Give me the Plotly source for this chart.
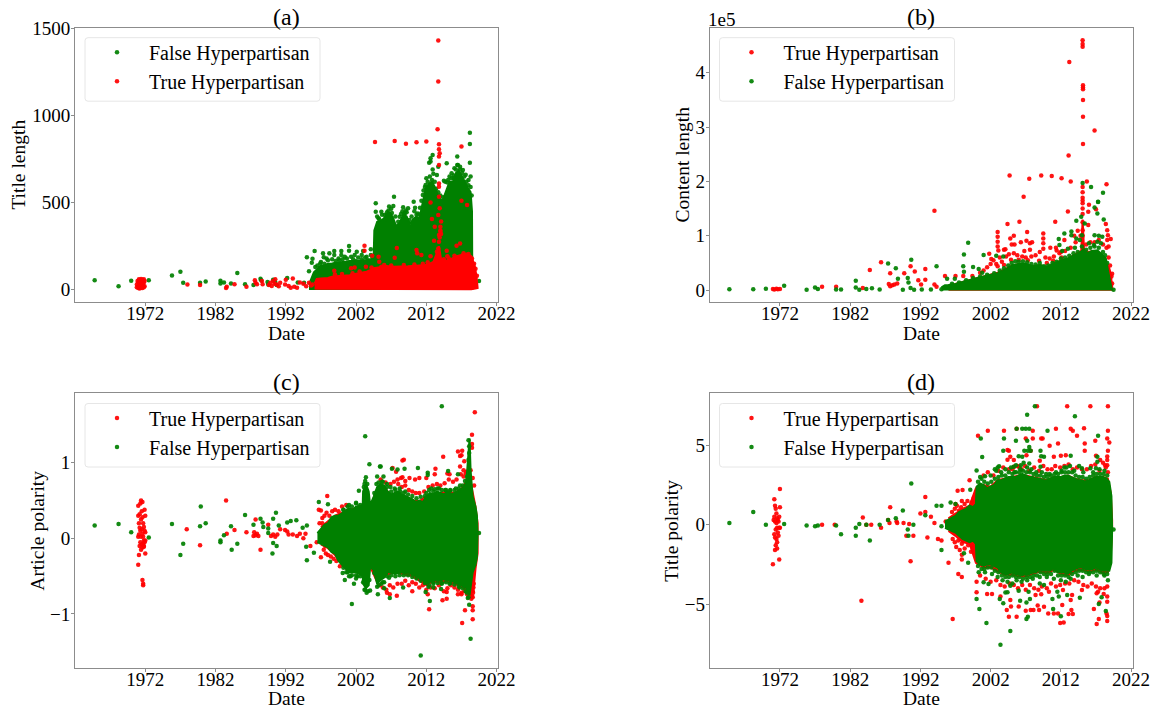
import plotly.graph_objects as go

RED = "#ff0000"
GREEN = "#008000"
FONT = "Liberation Serif"
TRUE_NAME = "True Hyperpartisan"
FALSE_NAME = "False Hyperpartisan"
PANEL_TITLES = ["(a)", "(b)", "(c)", "(d)"]
Y_TITLES = ["Title length", "Content length", "Article polarity", "Title polarity"]
X_TITLE = "Date"
X_TICKS = [1972, 1982, 1992, 2002, 2012, 2022]

# Bands: the solid mass of the cloud, as (year, top, bottom). Points: (year, value).
A_GREEN_BAND = [(1995.3,30,5),(1995.7,70,5),(1996,100,5),(1996.5,120,5),(1997,140,5),(1997.5,140,5),(1998,150,5),(1998.5,150,5),(1999,155,5),(1999.5,155,5),(2000,160,5),(2000.5,160,5),(2001,165,5),(2001.5,165,5),(2002,170,5),(2002.5,165,5),(2003,170,5),(2003.5,170,5),(2004,175,5),(2004.5,180,5),(2004.6,340,5),(2005,390,5),(2005.5,395,5),(2006,410,5),(2006.5,440,5),(2006.9,440,5),(2007.3,410,5),(2007.7,365,5),(2008.2,385,5),(2008.7,430,5),(2009.2,420,5),(2009.7,375,5),(2010.1,405,5),(2010.6,420,5),(2011,405,5),(2011.4,490,5),(2011.9,580,5),(2012.4,610,5),(2012.8,620,5),(2013.2,590,5),(2013.8,530,5),(2014.3,510,5),(2014.9,580,5),(2015.3,620,5),(2015.8,620,5),(2016.2,670,5),(2016.6,685,5),(2017,650,5),(2017.4,625,5),(2017.9,585,5),(2018.3,560,5),(2018.5,450,5),(2018.55,60,5)]
A_RED_BAND = [(1996.1,35,8),(1996.4,62,6),(1997,65,5),(1998,68,4),(1998.7,76,4),(1999.5,78,4),(2000.3,80,3),(2001.1,84,3),(2002,92,3),(2002.8,98,3),(2003.5,104,3),(2004,112,3),(2004.5,124,3),(2005.4,130,3),(2006.3,136,3),(2007.3,132,3),(2008.2,132,3),(2009.4,135,3),(2010.6,138,3),(2011.8,142,3),(2012.5,150,3),(2013,160,3),(2013.5,210,3),(2013.8,250,3),(2014.1,175,3),(2014.9,165,3),(2015.6,178,3),(2016.3,192,3),(2017,200,3),(2017.7,208,3),(2018.4,192,3),(2018.9,135,5),(2019.15,75,8),(2019.3,25,10)]
A_GREEN_POINTS = [(1964.8,55),(1968.2,21),(1970,52),(1972.5,54),(1975.8,82),(1977,103),(1977.4,40),(1979.8,40),(1980.6,48),(1982.7,52),(1982.7,36),(1983.2,42),(1984.2,36),(1985.1,97),(1986.2,32),(1987.4,27),(1988.4,63),(1988.5,55),(1989.4,45),(1989.5,30),(1990.2,58),(1990.5,44),(1990.7,28),(1992.2,68),(1993.7,42),(1994.6,40),(1995,186),(1995.8,178),(1995.7,155),(1995.3,107),(1996.1,222),(1997.3,209),(1997.4,186),(1996.9,151),(1996.8,123),(1998.2,209),(1997.8,180),(1998.9,222),(1998.9,199),(1999.5,180),(1999.9,222),(1999.9,199),(2001,251),(2001,224),(2000.4,190),(2002.1,218),(2003,222),(2001.8,199),(2002.8,199),(2004.1,232),(2004.1,199),(2003.5,190),(2004.8,496),(2004.8,448),(2005.6,448),(2007.4,534),(2006.7,477),(2007.3,480),(2006.1,429),(2008.7,473),(2009.4,467),(2010.2,505),(2010.4,471),(2010.8,438),(2008.2,419),(2011.5,544),(2011.9,601),(2012,639),(2012.6,735),(2012.9,773),(2012.6,754),(2012.4,729),(2013.7,706),(2013.5,658),(2014.9,725),(2015.6,668),(2016.4,764),(2016.4,716),(2017.2,687),(2018.2,901),(2018.2,836),(2018.2,729),(2018.3,649),(2016,697),(2016.8,706),(2019.5,50),(2012.9,690),(2013,665),(2014.5,625),(2015.1,630),(2015.9,655),(2017.6,660),(2018,630),(2005.2,410),(2006.4,445),(2008.9,440),(2009.1,455),(2011.1,470)]
A_GREEN_RIM = [(2005,420),(2005.3,405),(2005.7,430),(2006.1,405),(2006.4,430),(2006.6,455),(2007,465),(2007.1,440),(2007.6,420),(2008,390),(2008.4,435),(2008.6,450),(2008.9,430),(2009.2,445),(2009.6,400),(2009.9,420),(2010.3,450),(2010.6,430),(2011,430),(2011.3,510),(2011.6,570),(2011.8,590),(2012.2,620),(2012.5,650),(2012.8,630),(2013.2,620),(2013.4,580),(2013.7,560),(2014,540),(2014.4,530),(2014.7,620),(2015,615),(2015.3,650),(2015.6,640),(2015.9,640),(2016.2,690),(2016.5,715),(2016.8,690),(2017.1,670),(2017.4,650),(2017.7,620),(2018,600),(2018.3,590),(2018.45,540),(1997,160),(1997.5,150),(1998,170),(1998.6,175),(1999.1,165),(1999.6,170),(2000.1,175),(2000.7,180),(2001.3,190),(2001.6,175),(2002.3,185),(2002.8,175),(2003.3,185),(2003.7,170),(2004.3,190),(1996.2,130),(1996.5,140),(1996.8,100)]
A_RED_POINTS = [(1970.8,15),(1970.8,30),(1970.9,50),(1971,10),(1971,42),(1971,22),(1971.1,60),(1971.2,8),(1971.2,35),(1971.2,55),(1971.3,15),(1971.3,45),(1971.4,62),(1971.4,12),(1971.4,28),(1971.5,50),(1971.5,20),(1971.5,40),(1971.6,10),(1971.6,35),(1971.6,58),(1971.7,25),(1971.7,48),(1971.8,15),(1971.8,40),(1971.8,60),(1971.9,20),(1971.9,50),(1978,30),(1979.8,28),(1983.5,10),(1983.6,18),(1984.7,32),(1986.4,18),(1987.6,55),(1987.7,40),(1987.9,32),(1988.6,50),(1988.7,32),(1989.6,28),(1989.8,40),(1990,22),(1990.2,50),(1990.4,35),(1990.5,60),(1990.7,30),(1991,20),(1991.2,40),(1991.9,30),(1992,58),(1992.4,22),(1992.7,12),(1993,65),(1993.2,18),(1993.6,12),(1994,42),(1994.5,35),(1994.9,20),(1995.3,40),(1995.6,25),(1995.8,30),(2013.7,1430),(2013.7,1195),(2004.7,848),(2007.5,853),(2009.1,838),(2010.6,846),(2012,850),(2013.6,920),(2013.8,834),(2013.8,806),(2013.9,783),(2013.8,764),(2013.8,716),(2013.8,610),(2013.8,591),(2013.8,534),(2012.6,501),(2013.9,467),(2013.7,429),(2012.8,406),(2014.1,391),(2013.2,362),(2014,362),(2014,333),(2013.8,314),(2013.1,281),(2007.8,239),(2003.2,253),(2003.2,224),(2005.2,190),(2005.3,161),(2004.3,195),(2007.5,184),(2010.6,228),(2010.7,209),(2011.3,199),(1998.9,109),(2001.3,123),(2001.8,128),(2003.4,132),(2005.6,132),(2013.8,276),(2013.7,237),(2013.5,218),(2014.9,224),(2015,193),(2016.3,253),(2016.8,266),(2017,511),(2017.8,486),(2017,821),(2012.6,193),(2014,340),(2013.9,300),(2014.1,320),(1999,88),(2000,90),(2001.5,95),(2002.5,105),(2004.2,128),(2006,142),(2007,140),(2008.8,142),(2010.3,145),(2011.5,150),(2012.2,158),(2014.5,175),(2015.2,180),(2016,195),(2017.3,210),(2018,205),(2018.5,180),(2018.8,150),(2019,120),(2019.2,80)]

B_RED_BAND = [(1996,9000,500),(1997,11000,500),(1998,15000,500),(1999,19000,500),(2000,22000,500),(2001,25000,500),(2002,28000,500),(2003,32000,500),(2004,38000,500),(2005,45000,500),(2006,48000,500),(2007,47000,500),(2008,44000,500),(2009,46000,500),(2010,42000,500),(2011,48000,500),(2012,54000,500),(2013,58000,500),(2014,66000,500),(2014.9,72000,500),(2015.1,130000,500),(2015.3,74000,500),(2016,70000,500),(2016.5,72000,500),(2017,72000,500),(2017.5,68000,500),(2018,60000,500),(2018.5,48000,500),(2018.9,40000,500),(2019.1,30000,500),(2019.35,7000,500)]
B_GREEN_BAND = [(1995,5000,1000),(1995.5,9000,1000),(1996,9500,1000),(1997,11000,1000),(1998,15000,1000),(1999,19000,1000),(2000,22000,1000),(2001,25000,1000),(2002,27500,1000),(2003,31000,1000),(2003.6,34000,1000),(2004.4,40000,1000),(2005.2,46000,1000),(2006.3,49000,1000),(2007,48000,1000),(2008,44000,1000),(2009.1,46000,1000),(2010,42000,1000),(2011,49000,1000),(2012,54000,1000),(2013,58000,1000),(2013.9,64000,1000),(2014.5,66000,1000),(2015.2,75000,1000),(2015.8,68000,1000),(2016.4,72000,1000),(2017.2,73000,1000),(2017.8,66000,1000),(2018.4,58000,1000),(2018.8,30000,1000),(2019.1,12000,1000),(2019.25,3000,1000)]
B_RED_POINTS = [(1971,2000),(1971.2,1000),(1971.5,2500),(1971.7,1500),(1972,2000),(1978,6000),(1980,6000),(1983.8,4000),(1984.8,37000),(1986.4,51000),(1987.7,31000),(1987.5,11000),(1987.7,7000),(1988,9000),(1988.3,10000),(1988.7,12000),(1989.7,31000),(1990.6,44000),(1991.2,34000),(1991.7,18000),(1992.1,10000),(1992.7,39000),(1992.7,19000),(1994,146000),(1994,10000),(1994.3,6000),(1995.5,26000),(1997,26000),(2015.1,460000),(2015.1,453000),(2015.1,448000),(2013.2,420000),(2015.15,377000),(2015.15,373000),(2015.15,370000),(2015.15,350000),(2015.15,319000),(2016.8,294000),(2015.15,269000),(2013.1,248000),(2004.7,211000),(2007.5,205000),(2009.2,211000),(2010.7,210000),(2012.1,206000),(2013.4,200000),(2015.7,200000),(2018.5,195000),(2006.7,172000),(2015.1,190000),(2015.1,180000),(2015.1,170000),(2015.1,165000),(2015.1,160000),(2015.1,150000),(2015.1,140000),(2015.1,125000),(2015.1,110000),(2015.1,100000),(2013,144800),(2004.4,121500),(2006.1,125800),(2011.2,125800),(2018.4,121500),(2003,106700),(2003,98000),(2003,89000),(2003,80000),(2003.1,73000),(2007.2,107000),(2009.5,104000),(2009.5,95000),(2009.5,86000),(2009.5,76000),(2004.8,95000),(2005.3,100000),(2005,84000),(2005.4,84000),(2006.3,88000),(2007.1,91000),(2007.6,86000),(2007.9,88000),(2003.9,74000),(2004.1,75000),(2001.8,67000),(2002.1,57000),(2006.8,72000),(2007.6,74000),(2010.5,78000),(2011.3,78000),(2011.4,73000),(2012,70000),(2012.5,92000),(2013.9,100000),(2014.4,109000),(2015.9,144000),(2015.9,120000),(2016,157000),(2017,149000),(2018.6,110000),(2018.7,101000),(2018.6,92000),(2018.8,80000),(2019.1,94000),(2019.3,30000),(2019.3,12000),(1998.1,26000),(1999.4,26000)]
B_RED_RIM = [(2001.5,42000),(2002,48000),(2002.4,55000),(2002.8,48000),(2003.3,60000),(2003.6,52000),(2004.2,62000),(2004.6,66000),(2005.3,68000),(2005.8,64000),(2006.5,62000),(2007,60000),(2007.8,62000),(2008.4,64000),(2009,70000),(2009.8,60000),(2010.4,58000),(2011,62000),(2011.8,68000),(2012.6,72000),(2013.4,78000),(2014.1,88000),(2014.8,100000),(2015.6,84000),(2016.2,88000),(2016.8,88000),(2017.4,92000),(2018,84000),(2018.5,78000),(2000.5,32000),(2001,36000),(2003,44000),(2003.9,46000),(2004.9,56000),(2006,56000),(2007.3,55000),(2008.9,54000),(2010,50000),(2010.9,54000),(2012.1,60000),(2018.8,60000),(2019,45000),(2019.2,25000)]
B_GREEN_POINTS = [(1964.8,1500),(1968.2,1500),(1970,2500),(1972.6,8000),(1975.8,500),(1977,4500),(1977.4,2000),(1980,1000),(1980.7,1000),(1982.8,17000),(1982.8,4500),(1983.3,500),(1984.3,2000),(1985.1,3500),(1986.2,1000),(1987.4,49000),(1988.5,40000),(1988.8,21000),(1989.5,500),(1990.2,22000),(1990.3,14000),(1990.7,56000),(1990.6,4000),(1991.1,500),(1992.2,1000),(1993.5,1000),(1994.3,44000),(1995,1500),(1995.8,20800),(1996.9,20800),(1998.8,87000),(1998.2,65600),(2001,64400),(1998.1,44000),(1998.2,33700),(1999.5,42300),(2000.3,38600),(2000.8,31800),(2014.2,127600),(2017.3,162600),(2016.8,152000),(2017.2,141000),(2014.9,135000),(2015.4,122700),(2018.1,130000),(2012.5,104300),(2013.5,101000),(2013.5,108000),(2011.7,93800),(2011.8,83000),(2015,101000),(2014.7,92000),(2014.2,95000),(2016.8,101000),(2017.4,100000),(2017.9,98000),(2016,86000),(2017.2,89000),(2017.7,86000),(2016.7,83000),(2015.1,197000),(2016.3,190000),(2018,179000),(2017.3,162000),(2002.8,63000),(2003.8,62000),(2019.5,500),(2013,76000),(2014,78000),(2012.2,72000)]
B_GREEN_EDGE = [(1996.5,11500),(1997.5,14000),(1998.5,18000),(1999.5,22000),(2000.5,25000),(2001.5,28000),(2002.5,31000),(2003.3,36000),(2003.9,40000),(2004.5,45000),(2005,50000),(2005.5,53000),(2006,52000),(2006.6,53000),(2007.2,51000),(2007.8,48000),(2008.4,47000),(2009,50000),(2009.6,44000),(2010.2,45000),(2010.8,50000),(2011.4,52000),(2012,58000),(2012.6,60000),(2013.2,63000),(2013.8,68000),(2014.4,70000),(2015,80000),(2015.6,74000),(2016.2,78000),(2016.8,80000),(2017.4,78000),(2018,70000),(2018.3,64000),(2018.6,50000)]

C_RED_BAND = [(1997,.15,-.08),(1998,.22,-.13),(1999,.3,-.22),(2000,.34,-.35),(2001,.38,-.44),(2002,.4,-.44),(2003,.44,-.49),(2004,.4,-.37),(2005,.66,-.58),(2006,.68,-.5),(2007,.56,-.46),(2008,.6,-.46),(2009,.55,-.48),(2010,.5,-.5),(2011,.49,-.56),(2012,.56,-.62),(2013,.58,-.57),(2014,.6,-.58),(2015,.62,-.57),(2016,.6,-.6),(2017,.66,-.64),(2017.6,.74,-.68),(2018,.9,-.72),(2018.4,.7,-.72),(2018.7,.55,-.7),(2019,.42,-.4),(2019.3,.2,-.2)]
C_GREEN_BAND = [(1996.5,.07,-.05),(1997,.12,-.08),(1997.5,.18,-.1),(1998,.2,-.12),(1998.5,.28,-.18),(1999,.3,-.2),(1999.5,.3,-.3),(2000,.33,-.35),(2000.5,.36,-.4),(2001,.4,-.45),(2001.5,.38,-.45),(2002,.42,-.45),(2002.5,.4,-.47),(2002.95,.45,-.5),(2003,.62,-.6),(2003.4,.72,-.66),(2003.8,.62,-.62),(2004,.44,-.38),(2004.5,.55,-.42),(2005,.68,-.6),(2005.5,.72,-.55),(2006,.7,-.52),(2006.5,.62,-.45),(2007,.58,-.45),(2007.5,.6,-.47),(2008,.62,-.46),(2008.5,.58,-.45),(2009,.56,-.46),(2009.5,.53,-.45),(2010,.52,-.48),(2010.5,.48,-.5),(2011,.5,-.52),(2011.5,.48,-.55),(2012,.55,-.6),(2012.5,.6,-.58),(2013,.58,-.55),(2013.5,.62,-.55),(2014,.6,-.56),(2014.5,.58,-.54),(2015,.62,-.55),(2015.5,.58,-.56),(2016,.6,-.58),(2016.5,.63,-.6),(2017,.65,-.62),(2017.4,.68,-.64),(2017.7,.75,-.66),(2018,1.15,-.72),(2018.15,1.32,-.75),(2018.3,.9,-.65),(2018.6,.55,-.45),(2019,.42,-.35),(2019.2,.3,-.25),(2019.3,.05,-.03)]
C_RED_POINTS = [(1971,.43),(1971,.3),(1971,.02),(1971,-.35),(1971.1,.2),(1971.1,.05),(1971.1,-.22),(1971.2,.32),(1971.2,.14),(1971.2,-.1),(1971.3,.46),(1971.3,.1),(1971.3,-.05),(1971.4,.5),(1971.4,.25),(1971.4,.02),(1971.4,-.15),(1971.5,.36),(1971.5,.12),(1971.5,-.08),(1971.6,.48),(1971.6,.28),(1971.6,.06),(1971.6,-.12),(1971.7,.2),(1971.7,.02),(1971.7,-.07),(1971.8,.15),(1971.8,-.03),(1971.8,-.11),(1971.9,.38),(1971.9,.1),(1971.9,-.05),(1972,.3),(1972,.08),(1972,-.2),(1972,-.03),(1971.6,-.55),(1971.7,-.6),(1971.7,-.62),(1971.8,-.1),(1983.5,.5),(1977.9,.12),(1979.8,-.09),(1983.6,.06),(1984.7,.11),(1986.4,.08),(1987.7,.25),(1987.4,.03),(1987.5,.08),(1987.7,.04),(1987.9,.06),(1988.1,.03),(1988.4,-.15),(1989.5,.18),(1989.9,.03),(1990.2,.05),(1990.5,.02),(1990.8,.05),(1991.2,.12),(1991.9,.11),(1992.2,.09),(1992.4,.05),(1993,.05),(1993.6,.03),(1994,.06),(1994.5,0),(1994.8,.06),(1995.5,-.1),(1996.4,-.05),(1996.7,.38),(1997,.37),(1997.2,.2),(1997,-.25),(1997.9,.56),(1997.8,-.05),(1997.6,-.1),(2018.9,1.67),(2018.5,1.37),(2018.5,1.25),(2018.5,1.2),(2016.5,1.15),(2017.1,1.16),(2016.8,1.09),(2017,1.1),(2017.4,1.02),(2014.4,1.08),(2008.8,1.04),(2008.6,1.03),(2007.2,.93),(2007.7,.88),(2008.6,.81),(2009,.76),(2013.3,.92),(2015,.86),(2015.3,.85),(2016.8,.95),(2017.3,.9),(2017.6,.86),(2018,.85),(2012.4,-.94),(2017.1,-1.12),(2017.5,-.95),(2018.6,-.95),(2018.6,-.9),(2018.6,-1.07),(2007.8,-.76),(2010,-.7),(2012.2,-.74),(2014.3,-.82),(2014.9,-.8),(2006.4,-.72),(2006.8,-.74),(2014.9,-.71),(2016.5,-.74),(2017,-.74),(2018.4,-.8),(2018.6,-.78),(2018.6,-.7),(2012,.8),(2013.2,.85),(2007.9,.78),(2008.4,.8),(2009.6,.8),(2010.4,.78),(2011,.8),(1996.8,.2),(1997.2,.27),(1997.5,.3),(1997.8,.34),(1998.2,.3),(1998.6,.36),(1999,.38),(1999.5,.36),(2000,.42),(2000.6,.44),(1997.4,-.15),(1997.7,-.2),(1998,-.22),(1998.4,-.24),(1998.8,-.27),(1999.2,-.3),(1999.7,-.37)]
C_RED_RIM = [(2005.5,.78),(2006.2,.74),(2006.9,.72),(2007.4,.75),(2008,.72),(2008.5,.68),(2009,.7),(2009.5,.64),(2010,.62),(2010.5,.6),(2011,.6),(2011.7,.62),(2012.3,.68),(2012.9,.7),(2013.5,.72),(2014,.7),(2014.6,.73),(2015.2,.78),(2015.8,.75),(2016.3,.78),(2016.9,.85),(2017.3,.82),(2017.7,.88),(2018.3,.9),(2018.6,.8),(2018.8,.7),(2005.3,-.62),(2005.8,-.65),(2006.3,-.68),(2006.8,-.62),(2007.3,-.65),(2007.9,-.6),(2008.5,-.6),(2009,-.56),(2009.5,-.62),(2010,-.58),(2010.5,-.6),(2011,-.65),(2011.5,-.62),(2012,-.68),(2012.6,-.65),(2013.2,-.66),(2013.8,-.62),(2014.5,-.7),(2015,-.66),(2015.5,-.62),(2016,-.65),(2016.5,-.68),(2017,-.72),(2017.4,-.7),(2017.8,-.74),(2018.2,-.74),(2018.5,-.76),(2018.65,-.72),(2018.7,-.65),(2018.75,-.6)]
C_GREEN_POINTS = [(1964.8,.17),(1968.2,.19),(1970,.08),(1972.5,.01),(1975.8,.19),(1977,-.22),(1977.4,-.07),(1979.8,.16),(1979.9,.42),(1980.6,.2),(1982.7,-.05),(1982.7,-.03),(1983.2,.04),(1984.2,.16),(1984.3,-.15),(1985.1,-.07),(1986.2,.31),(1987.4,.18),(1988.4,.26),(1988.7,.21),(1988.8,.15),(1989.5,.13),(1989.5,.07),(1990.2,.26),(1990.6,.34),(1990.2,-.06),(1990.1,-.2),(1990.7,-.1),(1991,.17),(1992.2,.21),(1992.7,.23),(1993.5,.24),(1994.4,.14),(1995,.17),(1995,-.29),(1994.9,-.11),(1996,-.19),(1996.7,.48),(1998,.45),(1998.3,-.31),(2003.3,1.35),(2003.9,.98),(2005.4,.95),(2005.5,.95),(2007.1,.92),(2007.9,.91),(2008.9,.92),(2010.8,.93),(2012.2,.87),(2012.2,.84),(2002.4,.63),(2003.4,.81),(2003.2,.72),(2005,.82),(2005.9,.82),(2015.1,.89),(2016.5,.85),(2018,1.3),(2018.1,1.22),(2018.1,1.13),(2018,1.04),(2001.4,-.87),(2000.4,-.55),(2001.7,-.6),(2000.1,-.46),(2001,-.5),(2002,-.53),(2003.5,-.72),(2004,-.69),(2005.1,-.74),(2006.8,-.79),(2006,-.66),(2012.5,-.83),(2011.9,-.71),(2008.7,-.65),(2014.1,-.67),(2013,-.65),(2018.1,-.88),(2017.9,-.79),(2011.2,-1.55),(2014.2,1.75),(2018.3,-1.33),(2019.5,.07)]
C_GREEN_RIM = [(2000.2,.38),(2001,.44),(2002,.46),(2002.4,.42),(2003.3,.76),(2004.9,.72),(2005.7,.75),(2006.4,.72),(2006.9,.68),(2007.5,.66),(2008.3,.62),(2009,.62),(2012,.6),(2012.7,.66),(2013.2,.65),(2013.8,.66),(2014.7,.64),(2015.4,.64),(2016.2,.66),(2016.8,.7),(2017.5,.76),(2000.6,-.45),(2001.2,-.5),(2002.2,-.5),(2003,-.58),(2003.2,-.68),(2003.7,-.7),(2005,-.64),(2005.6,-.6),(2006,-.58),(2006.7,-.52),(2012.3,-.64),(2013,-.6),(2014.2,-.6),(2015.3,-.6),(2016.7,-.65),(2017.6,-.7),(2018,-.78)]
C_GREEN_EDGE = [(2000.2,.38),(2000.8,.42),(2001.4,.42),(2002,.47),(2002.6,.44),(2003.1,.68),(2003.6,.72),(2004.6,.6),(2005.2,.74),(2005.8,.75),(2006.4,.68),(2007,.62),(2007.6,.64),(2008.2,.66),(2008.8,.6),(2009.4,.58),(2010,.56),(2010.6,.53),(2011.2,.55),(2011.8,.56),(2012.4,.64),(2013,.62),(2013.6,.66),(2014.2,.64),(2014.8,.64),(2015.4,.63),(2016,.64),(2016.6,.66),(2017.2,.7),(2017.8,.82),(2000.2,-.39),(2000.8,-.45),(2001.4,-.49),(2002,-.49),(2002.6,-.5),(2003.3,-.68),(2003.9,-.55),(2004.6,-.46),(2005.2,-.62),(2005.8,-.58),(2006.4,-.5),(2007,-.49),(2007.6,-.5),(2008.2,-.49),(2008.8,-.49),(2009.4,-.49),(2010,-.51),(2010.6,-.53),(2011.2,-.56),(2011.8,-.59),(2012.4,-.62),(2013,-.58),(2013.6,-.59),(2014.2,-.59),(2014.8,-.58),(2015.4,-.59),(2016,-.61),(2016.6,-.63),(2017.2,-.66),(2017.8,-.72)]

D_RED_BAND = [(1996,.4,-.4),(1997,.7,-.7),(1998,1,-1.1),(1999,1.2,-1.2),(1999.9,2.3,-2.4),(2001,2.5,-2.7),(2002,2.4,-2.7),(2003,2.8,-2.9),(2004,2.9,-3.15),(2005,3,-3.15),(2006,3.1,-3.25),(2007,3.1,-3.25),(2008,3,-3.1),(2009,2.9,-2.95),(2010,2.8,-3.05),(2011,3,-2.85),(2012,3,-3.1),(2013,3.1,-3.2),(2014,2.9,-2.9),(2015,2.8,-2.85),(2016,2.8,-2.95),(2017,3,-2.85),(2018,3,-3.05),(2018.7,2.9,-3),(2019.1,2,-2),(2019.3,.3,-.3)]
D_GREEN_BAND = [(1995.5,.2,-.2),(1996,.35,-.3),(1996.5,.45,-.4),(1997,.55,-.5),(1997.5,.8,-.7),(1998,.9,-.9),(1998.5,1,-1),(1999,1.2,-1.1),(1999.5,1.1,-1),(1999.9,1.3,-1.2),(2000,2.4,-2.3),(2000.5,2.6,-2.5),(2001,2.5,-2.6),(2001.5,2.3,-2.5),(2002,2.4,-2.5),(2002.5,2.5,-2.6),(2003,2.8,-2.7),(2003.5,2.8,-3),(2004,2.9,-3.1),(2004.5,3,-3.1),(2005,3,-3),(2005.5,3,-3.1),(2006,3.1,-3.1),(2006.5,3.2,-3.2),(2007,3.1,-3.1),(2007.5,3,-3.1),(2008,3,-3),(2008.5,2.9,-3),(2009,2.9,-2.8),(2009.5,2.8,-2.9),(2010,2.8,-2.9),(2010.5,2.9,-2.9),(2011,3,-2.7),(2011.5,3,-3),(2012,3,-3),(2012.5,3.1,-3),(2013,3.1,-3.1),(2013.5,3,-2.9),(2014,2.9,-2.8),(2014.5,2.8,-2.7),(2015,2.8,-2.7),(2015.5,2.7,-2.8),(2016,2.8,-2.8),(2016.5,2.9,-2.8),(2017,3,-2.7),(2017.5,3,-2.8),(2018,3,-2.9),(2018.5,2.9,-2.9),(2018.9,2.7,-2.9),(2019.2,1.8,-2.4),(2019.3,.3,-.3)]
D_RED_POINTS = [(1971,-2.5),(1971.1,.3),(1971.2,1.6),(1971.2,.5),(1971.2,-.6),(1971.3,1.2),(1971.3,.2),(1971.3,-1.6),(1971.4,1),(1971.4,-.3),(1971.4,-1.3),(1971.5,.7),(1971.5,.1),(1971.5,-.9),(1971.6,.4),(1971.6,-.2),(1971.6,-1.1),(1971.7,.3),(1971.7,-.5),(1971.8,.2),(1971.8,-.7),(1971.9,.5),(1971.9,-.2),(1972,2.25),(1972,1.1),(1972,-.2),(1971.9,-2.2),(1971.6,-1.5),(1971.3,-.8),(1978,0),(1979.8,0),(1983.6,-4.8),(1983.8,.45),(1984.3,0),(1985,0),(1986.4,-.2),(1987.4,.3),(1987.6,.1),(1987.7,1.1),(1988.6,.2),(1988.7,.1),(1989.6,.1),(1990,-.7),(1990.4,.05),(1990.6,-2.3),(1991,-.7),(1992,.7),(1992.7,.8),(1992.7,1.75),(1993,-.8),(1993.5,.5),(1994,.1),(1994.5,-.9),(1995,-1),(1995.6,.2),(1996,-2.4),(1996.6,-5.94),(1997,1.3),(1997.4,-3.1),(1997.9,-3.3),(1997.3,2.14),(1998,2.18),(1997.9,1.5),(1997.9,-1.9),(1997.9,-2.2),(1999,2.8),(2000,-3.59),(2000,-4.26),(2000.2,5.6),(2001.6,5.92),(2001.5,-4.37),(2002.2,-4.37),(2003.4,-4.53),(2003.9,5.92),(2005.7,6.04),(2008,5.92),(2008.6,7.47),(2011.3,6.04),(2012.9,7.47),(2013.4,6.04),(2013.7,5.92),(2015.3,6.07),(2016.2,7.47),(2018.7,7.47),(2018.7,5.92),(2014.3,5.6),(2007,5.43),(2008,5.43),(2009.2,5.43),(2009.4,5.43),(2018.6,5.43),(2018.9,5.18),(2016.9,5.29),(2015.4,5.12),(2011.6,5.12),(2010.4,4.97),(2015.4,4.66),(2018.7,4.66),(2004.4,4.7),(2004.6,4.66),(2007.1,4.38),(2007.7,4.66),(2004.8,4.28),(2004.4,4.1),(2005.3,4.07),(2011,4.28),(2012,4.34),(2012.7,4.38),(2017,4.34),(2018.6,4.3),(2018.6,4.07),(2018.6,3.75),(2018.3,3.75),(2017.6,4.07),(2009,4.03),(2005.3,3.65),(2006,3.65),(2004.8,-4.74),(2004.9,-5.16),(2004.3,-5.37),(2004.6,-5.8),(2006,-5.16),(2005.7,-5.8),(2007,-5.42),(2007.7,-5.37),(2008.1,-5.37),(2008.7,-5.1),(2008.9,-5.37),(2009.6,-5.17),(2010.2,-5.6),(2011,-5.6),(2011.6,-5.6),(2011.9,-6.2),(2012.4,-6.17),(2012.2,-5.06),(2013.1,-5.63),(2013.7,-5.63),(2013.5,-5.37),(2008.4,-4.43),(2009.2,-4.39),(2010.3,-4.22),(2012.3,-4.12),(2013.6,-4.43),(2013.4,-4.74),(2015,-4.12),(2016.7,-5.31),(2017.4,-5.94),(2017.1,-6.26),(2017.1,-4.32),(2017.3,-4.22),(2018.6,-4.53),(2018.6,-4.85),(2018.5,-5.6),(2018.6,-5.75),(2018.6,-6.07),(2018.1,-4.37),(2017.5,-4.9),(1996.5,.8),(1996.9,1),(1997.2,1.2),(1997.5,.9),(1997.8,1.1),(1998.3,1.3),(1998.7,1.5),(1999.3,1.4),(1999.6,1.7),(1996.6,-.9),(1996.9,-1.1),(1997.1,-1.4),(1997.4,-1),(1997.6,-1.6),(1997.9,-1.2),(1998.3,-1.5),(1998.8,-1.3),(1999.2,-1.7),(1999.6,-1.4)]
D_RED_RIM = [(2001,3.1),(2001.6,3.3),(2002.4,3.1),(2003.1,3.4),(2003.8,3.6),(2004.6,3.5),(2005.1,3.5),(2005.8,3.7),(2006.4,3.5),(2006.9,3.7),(2007.5,3.4),(2008.2,3.6),(2008.9,3.4),(2009.5,3.7),(2010.1,3.5),(2010.7,3.5),(2011.2,3.7),(2011.9,3.6),(2012.5,3.7),(2013.1,3.8),(2013.7,3.5),(2014.3,3.6),(2015,3.5),(2015.7,3.5),(2016.3,3.7),(2016.9,3.8),(2017.5,3.4),(2018,3.9),(2018.4,3.6),(2018.7,3.3),(2000.5,-3.2),(2001.3,-3.4),(2002,-3.6),(2002.8,-3.5),(2003.4,-3.8),(2004,-3.9),(2004.7,-3.7),(2005.3,-3.8),(2005.9,-4),(2006.5,-3.8),(2007,-4.1),(2007.6,-3.8),(2008.2,-4),(2008.8,-4.1),(2009.3,-3.9),(2010,-4),(2010.6,-3.7),(2011.3,-3.9),(2011.9,-3.8),(2012.6,-3.7),(2013.2,-3.7),(2013.9,-3.5),(2014.5,-3.6),(2015.2,-3.8),(2015.8,-3.9),(2016.4,-3.7),(2017,-3.9),(2017.6,-4),(2018.2,-4),(2018.6,-3.9)]
D_GREEN_POINTS = [(1964.8,.1),(1968.2,.8),(1970,0),(1972.6,.05),(1975.8,-.05),(1977,-.1),(1977.4,-.05),(1980,-.05),(1980.7,-.6),(1982.8,-.2),(1982.8,-.7),(1983.3,.05),(1984.3,0),(1984.8,-1),(1986.2,0),(1987.4,.3),(1988.5,.4),(1989.5,.9),(1990.2,-.3),(1990.7,2.6),(1990.3,-.7),(1991,0),(1992.7,.6),(1994.3,1.2),(1995,1.2),(1995,-.1),(1995,-1.6),(1996.3,1.4),(1997,1.3),(1998.2,-1.8),(1998.8,-2.4),(1999.1,2.2),(2000,3.42),(2000.6,5.43),(2000.8,4.26),(2003.2,3.69),(2002.6,3.5),(2003,3.6),(2003.9,5.43),(2003.8,4.66),(2005.6,5.29),(2005.7,6.04),(2006.5,6.04),(2007,6.04),(2007.5,6.04),(2007.2,6.93),(2007.2,5.29),(2008.3,7.47),(2010.1,5.92),(2014,6.84),(2017.3,5.6),(2006.8,4.66),(2007.3,4.66),(2007.7,4.66),(2007.5,4.9),(2009.1,4.66),(2009.6,4.28),(2009.2,4.32),(2006,4.32),(2006.5,4.28),(2013.4,4.34),(2017.2,4.28),(2017.2,3.96),(2007.5,3.85),(2005.3,3.65),(2005.6,3.75),(2006.3,3.75),(2009.1,3.65),(2012.5,3.6),(2014.6,3.7),(2015,3.55),(2016.2,3.55),(2017,3.55),(2001.4,-6.19),(2004.8,-6.7),(2003.4,-7.56),(2000.4,-5.31),(2000,-4.68),(2001,-3.63),(2001.7,-3.73),(2003.3,-4.68),(2003.8,-4.95),(2006,-4.16),(2007.4,-4.22),(2004.1,-4.28),(2004.4,-4.26),(2006.2,-4.79),(2007.1,-4.91),(2007.6,-4.68),(2007.3,-5.8),(2007.1,-5.94),(2010.8,-4.68),(2010.9,-5.31),(2012,-5.77),(2011.7,-4.53),(2014.7,-4.6),(2017.8,-4.58),(2017.4,-5),(2018.4,-5.44),(2011.5,-4.22),(2012.9,-4.43),(2009.6,-3.8),(2009,-3.7),(2004.8,-3.84),(2019.5,-.3)]
D_GREEN_RIM = [(2000.5,3),(2001.2,3.05),(2002,3.1),(2002.8,3.4),(2003.5,3.3),(2004.1,3.5),(2004.9,3.6),(2005.4,3.3),(2006.2,3.5),(2006.7,3.9),(2007.2,3.6),(2007.8,3.5),(2008.5,3.3),(2009.3,3.3),(2009.9,3.2),(2010.4,3.2),(2011.3,3.3),(2012.1,3.4),(2012.8,3.6),(2013.3,3.7),(2013.9,3.4),(2015.2,3.3),(2016.6,3.3),(2017.5,3.5),(2018.2,3.4),(2000.3,-3),(2001.2,-3),(2002.2,-3.1),(2003,-3.3),(2003.7,-3.5),(2004.4,-3.6),(2005.1,-3.7),(2005.7,-3.5),(2006.4,-3.6),(2007.2,-3.5),(2008,-3.4),(2009,-3.3),(2010,-3.3),(2011,-3.4),(2012,-3.5),(2012.7,-3.6),(2013.4,-3.4),(2014.4,-3.2),(2015.1,-3.3),(2016,-3.1),(2017.1,-3.2),(2018.2,-3.2),(2018.7,-3.5)]
D_GREEN_EDGE = [(2000.2,2.7),(2000.7,2.9),(2001.1,2.7),(2001.6,2.6),(2002.1,2.7),(2002.6,2.9),(2003.1,3),(2003.6,3.1),(2004.1,3.1),(2004.6,3.3),(2005.1,3.2),(2005.6,3.3),(2006.1,3.3),(2006.6,3.4),(2007.1,3.3),(2007.6,3.3),(2008.1,3.2),(2008.6,3.1),(2009.1,3.1),(2009.6,3),(2010.1,3),(2010.6,3.1),(2011.1,3.2),(2011.6,3.2),(2012.1,3.3),(2012.6,3.3),(2013.1,3.3),(2013.6,3.3),(2014.1,3.1),(2014.6,3),(2015.1,3),(2015.6,2.9),(2016.1,3),(2016.6,3.1),(2017.1,3.2),(2017.6,3.2),(2018.1,3.2),(2018.6,3.1),(2000.2,-2.6),(2000.7,-2.8),(2001.1,-2.8),(2001.6,-2.7),(2002.1,-2.7),(2002.6,-2.9),(2003.1,-3),(2003.6,-3.2),(2004.1,-3.3),(2004.6,-3.3),(2005.1,-3.2),(2005.6,-3.3),(2006.1,-3.3),(2006.6,-3.4),(2007.1,-3.3),(2007.6,-3.3),(2008.1,-3.2),(2008.6,-3.2),(2009.1,-3),(2009.6,-3.1),(2010.1,-3.1),(2010.6,-3.1),(2011.1,-2.9),(2011.6,-3.2),(2012.1,-3.2),(2012.6,-3.2),(2013.1,-3.3),(2013.6,-3.1),(2014.1,-3),(2014.6,-2.9),(2015.1,-2.9),(2015.6,-3),(2016.1,-3),(2016.6,-3),(2017.1,-2.9),(2017.6,-3),(2018.1,-3.1),(2018.6,-3.1)]

PANELS = [
    dict(first="false", band_false=A_GREEN_BAND, band_true=A_RED_BAND, pts_false=A_GREEN_POINTS + A_GREEN_RIM, pts_true=A_RED_POINTS, x=(75, 498), y=(27.5, 302), yr=(-70, 1504), ticks=[0, 500, 1000, 1500], text=["0", "500", "1000", "1500"], box=(85, 37.7), standoff=1, date_y=334),
    dict(first="true", band_false=B_GREEN_BAND, band_true=B_RED_BAND, pts_false=B_GREEN_POINTS + B_GREEN_EDGE, pts_true=B_RED_POINTS + B_RED_RIM, x=(709.7, 1132.5), y=(27.5, 302), yr=(-22000, 483500), ticks=[0, 100000, 200000, 300000, 400000], text=["0", "1", "2", "3", "4"], box=(719.5, 37.7), standoff=0, date_y=334),
    dict(first="true", band_false=C_GREEN_BAND, band_true=C_RED_BAND, pts_false=C_GREEN_POINTS + C_GREEN_RIM + C_GREEN_EDGE, pts_true=C_RED_POINTS + C_RED_RIM, x=(75, 498), y=(393.3, 668.3), yr=(-1.72, 1.92), ticks=[-1, 0, 1], text=["\u22121", "0", "1"], box=(85, 403.5), standoff=0, date_y=698),
    dict(first="true", band_false=D_GREEN_BAND, band_true=D_RED_BAND, pts_false=D_GREEN_POINTS + D_GREEN_RIM + D_GREEN_EDGE, pts_true=D_RED_POINTS + D_RED_RIM, x=(709.7, 1132.5), y=(393.3, 668.3), yr=(-9.05, 8.28), ticks=[-5, 0, 5], text=["\u22125", "0", "5"], box=(719.5, 403.5), standoff=0, date_y=698),
]
X_RANGE = [1962, 2022.2]

W, H = 1158, 709


def xp(px):
    return px / W


def yp(py):
    return 1 - py / H


BOX_W, BOX_H, R = 235, 63.5, 3
fig = go.Figure()
layout = dict(
    width=W, height=H, margin=dict(l=0, r=0, t=0, b=0), autosize=False,
    paper_bgcolor="white", plot_bgcolor="white", showlegend=True,
    font=dict(family=FONT, size=19, color="black"), annotations=[], shapes=[],
)


def add_group(i, name, color, band, pts):
    suf = "" if i == 0 else str(i + 1)
    leg = "legend" if i == 0 else f"legend{i + 1}"
    yrs = [b[0] for b in band]
    top = [b[1] for b in band]
    bot = [b[2] for b in band]
    fig.add_trace(go.Scatter(
        x=yrs + yrs[::-1], y=top + bot[::-1], mode="lines",
        fill="toself", fillcolor=color, line=dict(color=color, width=2),
        xaxis="x" + suf, yaxis="y" + suf, showlegend=False, hoverinfo="skip",
    ))
    fig.add_trace(go.Scatter(
        x=[q[0] for q in pts], y=[q[1] for q in pts], mode="markers", name=name, legend=leg,
        marker=dict(color=color, size=4.5, opacity=0.92, line=dict(width=0)),
        xaxis="x" + suf, yaxis="y" + suf,
    ))


for i, p in enumerate(PANELS):
    suf = "" if i == 0 else str(i + 1)
    if p["first"] == "false":
        add_group(i, FALSE_NAME, GREEN, p["band_false"], p["pts_false"])
        add_group(i, TRUE_NAME, RED, p["band_true"], p["pts_true"])
    else:
        add_group(i, TRUE_NAME, RED, p["band_true"], p["pts_true"])
        add_group(i, FALSE_NAME, GREEN, p["band_false"], p["pts_false"])
    ax = dict(showline=True, linecolor="#8c8c8c", linewidth=1, mirror=True, showgrid=False, zeroline=False,
              ticks="outside", ticklen=3, tickcolor="#8c8c8c", tickfont=dict(family=FONT, size=19),
              automargin=False, ticklabeloverflow="allow")
    layout["xaxis" + suf] = dict(ax, domain=[xp(p["x"][0]), xp(p["x"][1])], range=X_RANGE,
                                 tickvals=X_TICKS, ticktext=[str(t) for t in X_TICKS], anchor="y" + suf,
                                 ticklabelstandoff=-9)
    layout["yaxis" + suf] = dict(ax, domain=[yp(p["y"][1]), yp(p["y"][0])], range=list(p["yr"]),
                                 tickvals=p["ticks"], ticktext=p["text"], anchor="x" + suf,
                                 ticklabelstandoff=-3,
                                 title=dict(text=Y_TITLES[i], font=dict(family=FONT, size=19.5), standoff=p["standoff"]))
    bx, by = p["box"]
    layout["legend" if i == 0 else f"legend{i + 1}"] = dict(
        x=xp(bx), y=yp(by - 5), xanchor="left", yanchor="top",
        bgcolor="rgba(0,0,0,0)", borderwidth=0,
        font=dict(family=FONT, size=20), itemwidth=54, traceorder="normal",
    )
    x0, x1 = xp(bx), xp(bx + BOX_W)
    y0, y1 = yp(by), yp(by + BOX_H)
    rx, ry = R / W, R / H
    layout["shapes"].append(dict(
        type="path", xref="paper", yref="paper", layer="above",
        line=dict(color="#e6e6e6", width=1), fillcolor="rgba(255,255,255,0.8)",
        path=(f"M {x0 + rx} {y0} L {x1 - rx} {y0} Q {x1} {y0} {x1} {y0 - ry} L {x1} {y1 + ry} "
              f"Q {x1} {y1} {x1 - rx} {y1} L {x0 + rx} {y1} Q {x0} {y1} {x0} {y1 + ry} L {x0} {y0 - ry} "
              f"Q {x0} {y0} {x0 + rx} {y0} Z"),
    ))
    center = (p["x"][0] + p["x"][1]) / 2
    layout["annotations"].append(dict(
        text=PANEL_TITLES[i], x=xp(center), y=yp(p["y"][0] - 1),
        xref="paper", yref="paper", xanchor="center", yanchor="bottom", showarrow=False,
        font=dict(family=FONT, size=24), yshift=-5,
    ))
    layout["annotations"].append(dict(
        text=X_TITLE, x=xp(center), y=yp(p["date_y"]),
        xref="paper", yref="paper", xanchor="center", yanchor="middle", showarrow=False,
        font=dict(family=FONT, size=19.5),
    ))

layout["annotations"].append(dict(
    text="1e5", x=xp(709.7), y=yp(27.5), xref="paper", yref="paper", xanchor="left", yanchor="bottom",
    showarrow=False, font=dict(family=FONT, size=19), xshift=-4, yshift=-4,
))
fig.update_layout(**layout)
fig.write_html("out.html", config={"displayModeBar": False}, post_script="document.body.style.margin='0';")
